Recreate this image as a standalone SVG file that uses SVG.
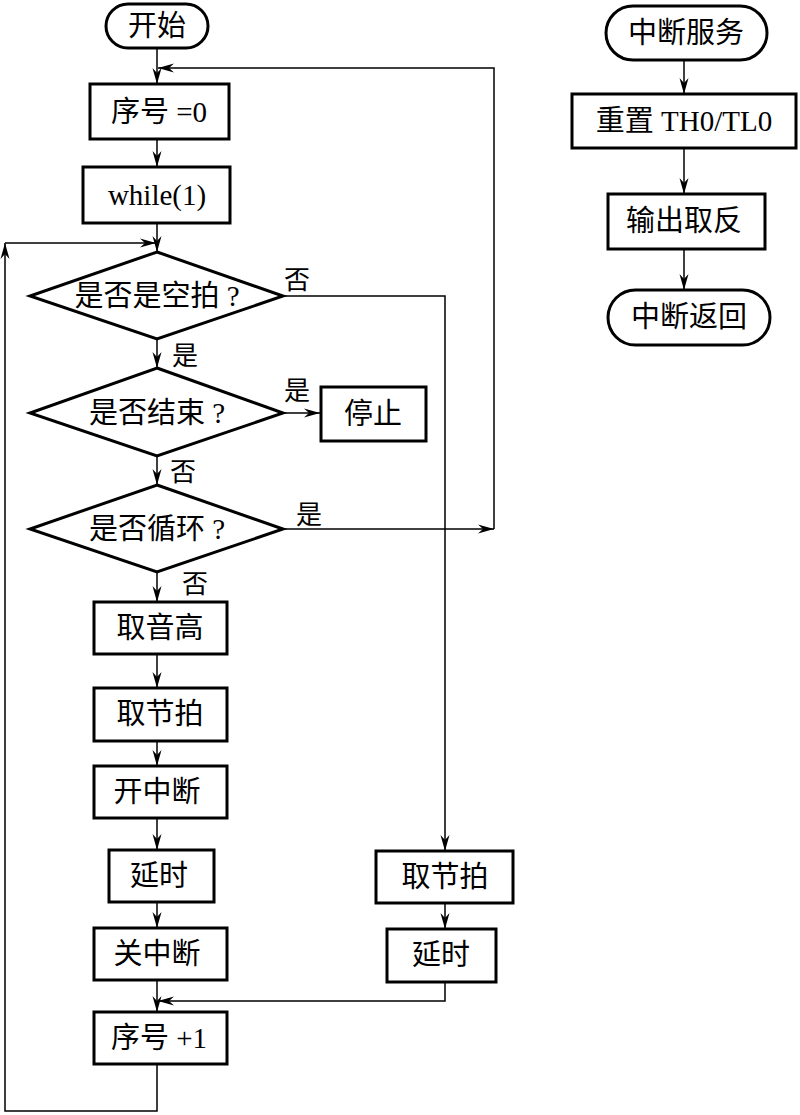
<svg xmlns="http://www.w3.org/2000/svg" width="800" height="1115" viewBox="0 0 800 1115">
<defs>
<style>
.n{fill:#fff;stroke:#000;stroke-width:3}
.c{fill:none;stroke:#000;stroke-width:1.5}
.t{font-family:"Liberation Serif","Noto Sans CJK SC",serif;font-size:29px;fill:#000;text-anchor:middle;dominant-baseline:central}
.l{font-family:"Liberation Serif","Noto Sans CJK SC",serif;font-size:26px;fill:#000}
</style>
<marker id="a" markerUnits="userSpaceOnUse" markerWidth="20" markerHeight="12" viewBox="-16 -6 18 12" refX="0" refY="0" orient="auto">
<path d="M0,0 L-16,-4.5 L-11,0 L-16,4.5 Z" fill="#000"/>
</marker>
</defs>
<rect width="800" height="1115" fill="#fff"/>
<g id="connectors">
<path class="c" d="M157,48 V84" marker-end="url(#a)"/>
<path class="c" d="M157,139 V167" marker-end="url(#a)"/>
<path class="c" d="M157,223 V252" marker-end="url(#a)"/>
<path class="c" d="M157,339 V368" marker-end="url(#a)"/>
<path class="c" d="M157,456 V485" marker-end="url(#a)"/>
<path class="c" d="M157,572 V602" marker-end="url(#a)"/>
<path class="c" d="M157,654 V688" marker-end="url(#a)"/>
<path class="c" d="M157,741 V766" marker-end="url(#a)"/>
<path class="c" d="M157,818 V850" marker-end="url(#a)"/>
<path class="c" d="M157,902 V928" marker-end="url(#a)"/>
<path class="c" d="M157,980 V1012" marker-end="url(#a)"/>
<path class="c" d="M283,413 H320" marker-end="url(#a)"/>
<path class="c" d="M283,296 H445 V851" marker-end="url(#a)"/>
<path class="c" d="M445,903 V929" marker-end="url(#a)"/>
<path class="c" d="M445,982 V1001 H158" marker-end="url(#a)"/>
<path class="c" d="M283,529 H494" marker-end="url(#a)"/>
<path class="c" d="M494,529 V68 H158" marker-end="url(#a)"/>
<path class="c" d="M157,1064 V1111 H5 V243" marker-end="url(#a)"/>
<path class="c" d="M5,243 H156" marker-end="url(#a)"/>
<path class="c" d="M684,60 V94" marker-end="url(#a)"/>
<path class="c" d="M684,148 V194" marker-end="url(#a)"/>
<path class="c" d="M684,249 V290" marker-end="url(#a)"/>
</g>
<g id="start"><rect class="n" x="106" y="4" width="102" height="44" rx="22"/><text class="t" x="157" y="26">开始</text></g>
<g id="init"><rect class="n" x="90" y="84" width="139" height="55"/><text class="t" x="159" y="112">序号 =0</text></g>
<g id="while"><rect class="n" x="83" y="167" width="147" height="56"/><text class="t" x="157" y="195">while(1)</text></g>
<g id="d1"><polygon class="n" points="157,252 283,296 157,339 30,296"/><text class="t" x="157" y="296">是否是空拍 ?</text></g>
<g id="d2"><polygon class="n" points="157,368 283,413 157,456 30,413"/><text class="t" x="157" y="413">是否结束 ?</text></g>
<g id="stop"><rect class="n" x="321" y="387" width="105" height="54"/><text class="t" x="373" y="414">停止</text></g>
<g id="d3"><polygon class="n" points="157,485 283,529 157,572 30,529"/><text class="t" x="157" y="529">是否循环 ?</text></g>
<g id="pitch"><rect class="n" x="94" y="602" width="133" height="52"/><text class="t" x="160" y="628">取音高</text></g>
<g id="beat1"><rect class="n" x="94" y="688" width="133" height="53"/><text class="t" x="160" y="714">取节拍</text></g>
<g id="inton"><rect class="n" x="94" y="766" width="133" height="52"/><text class="t" x="157" y="792">开中断</text></g>
<g id="delay1"><rect class="n" x="109" y="850" width="105" height="52"/><text class="t" x="159" y="876">延时</text></g>
<g id="intoff"><rect class="n" x="94" y="928" width="133" height="52"/><text class="t" x="157" y="954">关中断</text></g>
<g id="inc"><rect class="n" x="94" y="1012" width="133" height="52"/><text class="t" x="159" y="1038">序号 +1</text></g>
<g id="beat2"><rect class="n" x="376" y="851" width="137" height="52"/><text class="t" x="445" y="877">取节拍</text></g>
<g id="delay2"><rect class="n" x="387" y="929" width="109" height="53"/><text class="t" x="441" y="955">延时</text></g>
<g id="isr"><rect class="n" x="606" y="6" width="161" height="54" rx="27"/><text class="t" x="686" y="33">中断服务</text></g>
<g id="reset"><rect class="n" x="572" y="94" width="224" height="54"/><text class="t" x="684" y="121">重置 TH0/TL0</text></g>
<g id="toggle"><rect class="n" x="608" y="194" width="157" height="55"/><text class="t" x="684" y="221">输出取反</text></g>
<g id="ret"><rect class="n" x="608" y="290" width="162" height="55" rx="27.5"/><text class="t" x="689" y="317">中断返回</text></g>
<g id="labels">
<text class="l" x="284" y="289">否</text>
<text class="l" x="172" y="365">是</text>
<text class="l" x="284" y="400">是</text>
<text class="l" x="170" y="481">否</text>
<text class="l" x="296" y="524">是</text>
<text class="l" x="182" y="593">否</text>
</g>
</svg>
